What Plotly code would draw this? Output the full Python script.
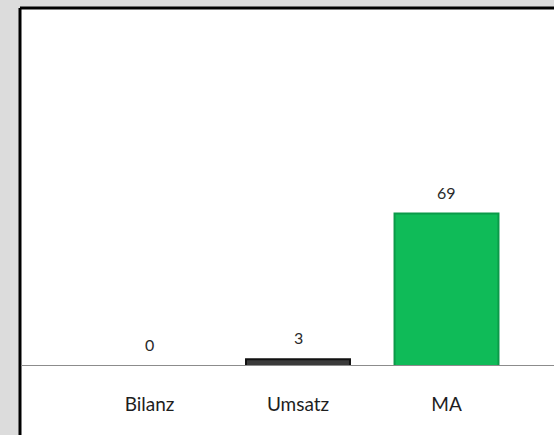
import plotly.graph_objects as go

# Chart data
categories = ["Bilanz", "Umsatz", "MA"]
values = [0, 3, 69]
bar_colors = ["#3a3a3a", "#3a3a3a", "#0fbb58"]
edge_colors = ["#111111", "#111111", "#0b9a49"]

W, H = 554, 435

# pixel layout helpers
plot_left, plot_right = 75.25, 520.75
plot_top, plot_bottom = 20, 366
px_per_unit = 2.21

FONT = "Lato, Carlito, sans-serif"

fig = go.Figure()
fig.add_trace(go.Bar(
    x=categories,
    y=values,
    width=0.7,
    marker=dict(color=bar_colors, line=dict(color=edge_colors, width=2)),
    hoverinfo="skip",
))

# value labels above each bar
for c, v in zip(categories, values):
    fig.add_annotation(
        x=c, y=v, xref="x", yref="y", text=str(v), showarrow=False,
        yanchor="bottom", yshift=10,
        font=dict(family=FONT, size=16, color="#2a2a2a"),
    )

# white chart box with black top/left frame
fig.add_shape(type="rect", xref="paper", yref="paper",
              x0=20 / W, x1=1.01, y0=-0.01, y1=1 - 8 / H,
              fillcolor="white", line=dict(width=0), layer="below")
fig.add_shape(type="line", xref="paper", yref="paper",
              x0=20 / W, x1=1.01, y0=1 - 8 / H, y1=1 - 8 / H,
              line=dict(color="black", width=3), layer="above")
fig.add_shape(type="line", xref="paper", yref="paper",
              x0=20 / W, x1=20 / W, y0=-0.01, y1=1 - 8 / H,
              line=dict(color="black", width=3), layer="above")
# category axis baseline across the box
fig.add_shape(type="line", xref="paper", yref="y",
              x0=21 / W, x1=1.01, y0=0, y1=0,
              line=dict(color="#8c8c8c", width=2), layer="above")

fig.update_layout(
    width=W, height=H,
    margin=dict(l=0, r=0, t=0, b=0),
    paper_bgcolor="#dcdcdc",
    plot_bgcolor="rgba(0,0,0,0)",
    showlegend=False,
    bargap=0.3,
    xaxis=dict(
        domain=[plot_left / W, plot_right / W],
        range=[-0.5, 2.5],
        showgrid=False, zeroline=False, showline=False, ticks="",
        tickfont=dict(family=FONT, size=19, color="#1e1e1e"),
        ticklabelstandoff=25,
    ),
    yaxis=dict(
        domain=[1 - plot_bottom / H, 1 - plot_top / H],
        range=[0, (plot_bottom - plot_top) / px_per_unit],
        visible=False,
    ),
)

fig.write_html("out.html")
